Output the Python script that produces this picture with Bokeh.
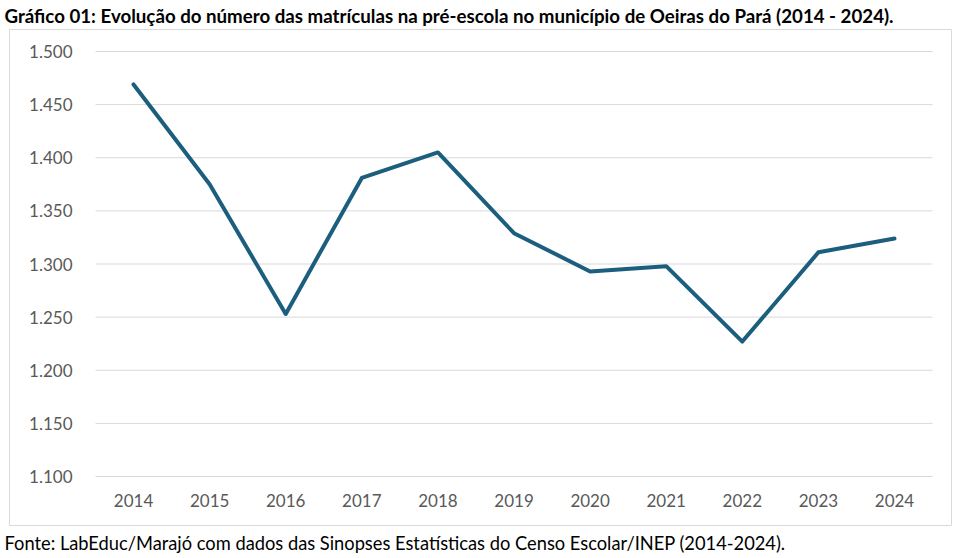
from bokeh.plotting import figure
from bokeh.models import Range1d, FixedTicker, CustomJSTickFormatter, Title
from bokeh.embed import file_html
from bokeh.resources import INLINE

# ---- data ----
years = [2014, 2015, 2016, 2017, 2018, 2019, 2020, 2021, 2022, 2023, 2024]
matriculas = [1469, 1375, 1253, 1381, 1405, 1329, 1293, 1298, 1227, 1311, 1324]
y_ticks = [1100, 1150, 1200, 1250, 1300, 1350, 1400, 1450, 1500]

title_text = "Gráfico 01: Evolução do número das matrículas na pré-escola no município de Oeiras do Pará (2014 - 2024)."
source_text = "Fonte: LabEduc/Marajó com dados das Sinopses Estatísticas do Censo Escolar/INEP (2014-2024)."

FONT = "Lato"
LINE_COLOR = "#1b5e7e"
GRID_COLOR = "#d9d9d9"
TICK_COLOR = "#595959"

# the frame is the chart's bordered box; the plot area sits inside it
p = figure(width=962, height=558, output_backend="svg", toolbar_location=None,
           x_range=Range1d(2012.370, 2024.749),
           y_range=Range1d(1053.9, 1520.7),
           min_border_left=9, min_border_right=11, min_border_top=29, min_border_bottom=33)

p.outline_line_color = GRID_COLOR
p.outline_line_width = 1
p.background_fill_color = "white"
p.border_fill_color = "white"

# horizontal gridlines across the plot area only
n = len(y_ticks)
p.segment(x0=[years[0] - 0.5] * n, y0=y_ticks, x1=[years[-1] + 0.5] * n, y1=y_ticks,
          line_color=GRID_COLOR, line_width=1)

p.line(years, matriculas, line_color=LINE_COLOR, line_width=4, line_cap="round", line_join="round")

p.xgrid.grid_line_color = None
p.ygrid.grid_line_color = None

p.yaxis.ticker = FixedTicker(ticks=y_ticks)
p.yaxis.formatter = CustomJSTickFormatter(code="""
    return tick.toFixed(0).replace(/\\B(?=(\\d{3})+(?!\\d))/g, ".");
""")
p.xaxis.ticker = FixedTicker(ticks=years)
p.xaxis.formatter = CustomJSTickFormatter(code="return tick.toFixed(0);")
for ax in (p.xaxis[0], p.yaxis[0]):
    ax.axis_line_color = None
    ax.major_tick_line_color = None
    ax.minor_tick_line_color = None
    ax.major_tick_out = 0
    ax.major_tick_in = 0
    ax.major_label_text_font = FONT
    ax.major_label_text_font_size = "17px"
    ax.major_label_text_color = TICK_COLOR
p.yaxis.major_label_standoff = -63
p.xaxis.major_label_standoff = -32

p.add_layout(Title(text=title_text, text_font=FONT, text_font_size="18.7px",
                   text_font_style="bold", text_color="black", align="left",
                   offset=-5, standoff=5), "above")
p.add_layout(Title(text=source_text, text_font=FONT, text_font_size="18.3px",
                   text_font_style="normal", text_color="black", align="left",
                   offset=-5, standoff=8), "below")

open("out.html", "w").write(file_html(p, INLINE))
